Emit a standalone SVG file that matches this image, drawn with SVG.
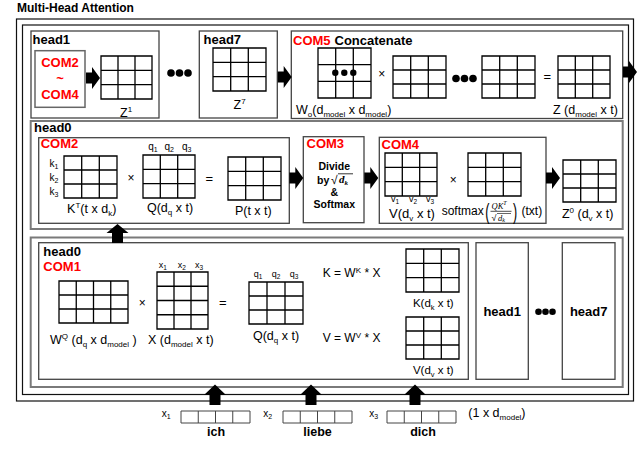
<svg xmlns="http://www.w3.org/2000/svg" xmlns:xlink="http://www.w3.org/1999/xlink" width="637" height="450" viewBox="0 0 637 450">
<style>
text{font-family:"Liberation Sans",Arial,sans-serif;fill:#000}
.b{font-weight:bold}
.red{fill:#f00;font-weight:bold;font-size:13px}
.hd{font-weight:bold;font-size:13px}
.l{font-size:12.5px}
.s{font-size:10px}
.fr{fill:none;stroke:#111;stroke-width:1.2}
.gf{fill:none;stroke:#7a7a7a;stroke-width:2}
.bx{fill:#fff;stroke:#444;stroke-width:1.3}
.g{fill:none;stroke:#000;stroke-width:1.3}
.gi{fill:none;stroke:#444;stroke-width:1}
.ar{fill:#000}
.m{font-family:"Liberation Serif","Times New Roman",serif;font-style:italic}
</style>
<defs>
<path id="ar" d="M0,-5.5H6V-11L14,0L6,11V5.5H0Z"/>
<path id="up" d="M-5.5,19V9H-11L0,0L11,9H5.5V19Z"/>
<path id="up2" d="M-5.5,20.5V10.5H-11L0,0L11,10.5H5.5V20.5Z"/>
</defs>

<text x="17" y="12" class="b" font-size="12">Multi-Head Attention</text>

<g id="frames">
<rect class="fr" x="16.5" y="19" width="617" height="382"/>
<rect class="fr" x="22.5" y="25" width="606" height="369.5"/>
<rect class="gf" x="30.7" y="121" width="592" height="108"/>
<rect class="gf" x="30.7" y="237.5" width="592" height="149.5"/>
</g>

<g id="head1-top">
<rect class="bx" x="31" y="31" width="128" height="87"/>
<text x="32.5" y="44" class="hd" font-size="12.5">head1</text>
<rect x="35" y="50.7" width="50" height="56.6" fill="#fff" stroke="#666" stroke-width="1.5"/>
<text x="60" y="66.7" text-anchor="middle" class="red">COM2</text>
<text x="60" y="83" text-anchor="middle" class="red">~</text>
<text x="60" y="99" text-anchor="middle" class="red">COM4</text>
<path class="g" d="M101,56h51v43h-51z M118,56v43 M135,56v43 M101,70.3h51 M101,84.7h51"/>
<text x="120" y="117" class="l">Z<tspan font-size="8" dy="-5">1</tspan></text>
</g>

<g id="dots-top">
<circle cx="171" cy="73" r="3.8"/><circle cx="179.5" cy="73" r="3.8"/><circle cx="188" cy="73" r="3.8"/>
</g>

<g id="head7-top">
<rect class="bx" x="199.3" y="31" width="78" height="87"/>
<text x="203.5" y="44" class="hd" font-size="12.5">head7</text>
<path class="g" d="M213,48h53v43h-53z M230.7,48v43 M248.3,48v43 M213,62.3h53 M213,76.7h53"/>
<text x="233.5" y="109" class="l">Z<tspan font-size="8" dy="-5">7</tspan></text>
</g>

<g id="com5">
<rect class="bx" x="291.3" y="31" width="331.4" height="87.5"/>
<text x="293" y="45" class="red">COM5</text>
<text x="334.5" y="45" class="hd">Concatenate</text>
<path class="g" d="M318,48h53v50h-53z M335.7,48v50 M353.3,48v50 M318,64.7h53 M318,81.3h53"/>
<circle cx="335.3" cy="72.8" r="3.2"/><circle cx="344.3" cy="72.8" r="3.2"/><circle cx="353.3" cy="72.8" r="3.2"/>
<text x="381.7" y="78" text-anchor="middle" font-size="12" fill="#444">×</text>
<path class="g" d="M393,56h53v42h-53z M410.7,56v42 M428.3,56v42 M393,70h53 M393,84h53"/>
<circle cx="456" cy="78.5" r="3.8"/><circle cx="464.5" cy="78.5" r="3.8"/><circle cx="473" cy="78.5" r="3.8"/>
<path class="g" d="M482,56h53v42h-53z M499.7,56v42 M517.3,56v42 M482,70h53 M482,84h53"/>
<text x="547.3" y="81" text-anchor="middle" font-size="13" fill="#555">=</text>
<path class="g" d="M558,56h52v42h-52z M575.3,56v42 M592.7,56v42 M558,70h52 M558,84h52"/>
<text x="296" y="114.3" class="l" font-size="13">W<tspan font-size="8" dy="3">o</tspan><tspan dy="-3">(d</tspan><tspan font-size="8" dy="3">model</tspan><tspan dy="-3"> x d</tspan><tspan font-size="8" dy="3">model</tspan><tspan dy="-3">)</tspan></text>
<text x="553" y="114.3" class="l">Z (d<tspan font-size="8" dy="3">model</tspan><tspan dy="-3"> x t)</tspan></text>
</g>

<g id="mid-label">
<text x="34" y="131.7" class="hd">head0</text>
</g>

<g id="com2">
<rect class="bx" x="38.7" y="137.7" width="250.6" height="85.6"/>
<text x="40.7" y="148.3" class="red">COM2</text>
<text x="49.5" y="166.5" class="s">k<tspan font-size="7" dy="2">1</tspan></text>
<text x="49.5" y="180.5" class="s">k<tspan font-size="7" dy="2">2</tspan></text>
<text x="49.5" y="194.5" class="s">k<tspan font-size="7" dy="2">3</tspan></text>
<path class="g" d="M64,156h53v42h-53z M81.7,156v42 M99.3,156v42 M64,170h53 M64,184h53"/>
<text x="131" y="182" text-anchor="middle" font-size="12" fill="#444">×</text>
<text x="148.3" y="150" class="s">q<tspan font-size="7" dy="2">1</tspan></text>
<text x="164.5" y="150" class="s">q<tspan font-size="7" dy="2">2</tspan></text>
<text x="182" y="150" class="s">q<tspan font-size="7" dy="2">3</tspan></text>
<path class="g" d="M143,155h52v43h-52z M160.3,155v43 M177.7,155v43 M143,169.3h52 M143,183.7h52"/>
<text x="209.3" y="183" text-anchor="middle" font-size="13" fill="#555">=</text>
<path class="g" d="M228,157h53v43h-53z M245.7,157v43 M263.3,157v43 M228,171.3h53 M228,185.7h53"/>
<text x="91.7" y="213.3" text-anchor="middle" class="l">K<tspan font-size="8" dy="-5">T</tspan><tspan dy="5">(t x d</tspan><tspan font-size="8" dy="2.5">k</tspan><tspan dy="-2.5">)</tspan></text>
<text x="170" y="211.7" text-anchor="middle" class="l">Q(d<tspan font-size="8" dy="3">q</tspan><tspan dy="-3"> x t)</tspan></text>
<text x="253.3" y="215" text-anchor="middle" class="l">P(t x t)</text>
</g>

<g id="com3">
<rect class="bx" x="303.3" y="136.7" width="60.7" height="86"/>
<text x="306.5" y="148.3" class="red">COM3</text>
<text x="334.3" y="170" text-anchor="middle" class="b" font-size="10.5">Divide</text>
<text x="317" y="183.5" class="b" font-size="10.5">by</text>
<text x="331" y="184" font-family="Liberation Serif" font-size="12">√</text>
<line x1="338" y1="173.8" x2="353" y2="173.8" stroke="#000" stroke-width="0.8"/>
<text x="339" y="183.3" class="m b" font-size="11">d<tspan font-size="7" dy="2">k</tspan></text>
<text x="334.3" y="196" text-anchor="middle" class="b" font-size="10.5">&amp;</text>
<text x="334.3" y="208.3" text-anchor="middle" class="b" font-size="10.5">Softmax</text>
</g>

<g id="com4">
<rect class="bx" x="379.3" y="137.3" width="166.7" height="86"/>
<text x="381.5" y="149.3" class="red">COM4</text>
<path class="g" d="M385,153h52v43h-52z M402.3,153v43 M419.7,153v43 M385,167.3h52 M385,181.7h52"/>
<text x="395" y="202.3" text-anchor="middle" font-size="9">v<tspan font-size="6.5" dy="2">1</tspan></text>
<text x="413" y="202.3" text-anchor="middle" font-size="9">v<tspan font-size="6.5" dy="2">2</tspan></text>
<text x="430" y="202.3" text-anchor="middle" font-size="9">v<tspan font-size="6.5" dy="2">3</tspan></text>
<text x="412" y="218.3" text-anchor="middle" font-size="13">V(d<tspan font-size="8" dy="3">v</tspan><tspan dy="-3"> x t)</tspan></text>
<text x="453.3" y="184" text-anchor="middle" font-size="12" fill="#444">×</text>
<path class="g" d="M468,153h53v43h-53z M485.7,153v43 M503.3,153v43 M468,167.3h53 M468,181.7h53"/>
<text x="441.7" y="215" font-size="12">softmax</text>
<text transform="translate(485.3,218.5) scale(1,1.75)" font-size="12.5">(</text>
<text x="491.5" y="208.8" class="m" font-size="8.5">QK<tspan font-size="6" dy="-3.5">T</tspan></text>
<line x1="490.5" y1="211.3" x2="511.5" y2="211.3" stroke="#000" stroke-width="0.7"/>
<text x="491.5" y="220.5" font-family="Liberation Serif" font-size="9">√</text>
<line x1="497" y1="213.5" x2="511" y2="213.5" stroke="#000" stroke-width="0.6"/>
<text x="498" y="220.5" class="m" font-size="8.5">d<tspan font-size="6" dy="1.5">k</tspan></text>
<text transform="translate(513,218.5) scale(1,1.75)" font-size="12.5">)</text>
<text x="521.5" y="215" font-size="12">(txt)</text>
</g>

<g id="z0">
<path class="g" d="M563,160h53v42h-53z M580.7,160v42 M598.3,160v42 M563,174h53 M563,188h53"/>
<text x="587.7" y="218.3" text-anchor="middle" class="l">Z<tspan font-size="8" dy="-5">0</tspan><tspan dy="5"> (d</tspan><tspan font-size="8" dy="3">v</tspan><tspan dy="-3"> x t)</tspan></text>
</g>

<g id="com1">
<rect class="bx" x="38.7" y="242.7" width="429.6" height="136.6"/>
<text x="43.3" y="256" class="hd">head0</text>
<text x="43.3" y="270.7" class="red">COM1</text>
<path class="g" d="M59,281h69v42h-69z M76.25,281v42 M93.5,281v42 M110.75,281v42 M59,295h69 M59,309h69"/>
<text x="142.3" y="306.5" text-anchor="middle" font-size="12" fill="#444">×</text>
<text x="162.7" y="268.3" text-anchor="middle" font-size="9">x<tspan font-size="6.5" dy="2">1</tspan></text>
<text x="181.7" y="268.3" text-anchor="middle" font-size="9">x<tspan font-size="6.5" dy="2">2</tspan></text>
<text x="199" y="268.3" text-anchor="middle" font-size="9">x<tspan font-size="6.5" dy="2">3</tspan></text>
<path class="g" d="M157,272h51v57h-51z M174,272v57 M191,272v57 M157,286.25h51 M157,300.5h51 M157,314.75h51"/>
<text x="222.7" y="307" text-anchor="middle" font-size="13" fill="#555">=</text>
<text x="258" y="277.3" text-anchor="middle" font-size="9">q<tspan font-size="6.5" dy="2">1</tspan></text>
<text x="276" y="277.3" text-anchor="middle" font-size="9">q<tspan font-size="6.5" dy="2">2</tspan></text>
<text x="294" y="277.3" text-anchor="middle" font-size="9">q<tspan font-size="6.5" dy="2">3</tspan></text>
<path class="g" d="M249,282h54v42h-54z M267,282v42 M285,282v42 M249,296h54 M249,310h54"/>
<text x="50" y="344.3" class="l">W<tspan font-size="8" dy="-5">Q</tspan><tspan dy="5"> (d</tspan><tspan font-size="8" dy="3">q</tspan><tspan dy="-3"> x d</tspan><tspan font-size="8" dy="3">model</tspan><tspan dy="-3"> )</tspan></text>
<text x="148" y="344.3" class="l">X (d<tspan font-size="8" dy="3">model</tspan><tspan dy="-3"> x t)</tspan></text>
<text x="276" y="340" text-anchor="middle" class="l">Q(d<tspan font-size="8" dy="3">q</tspan><tspan dy="-3"> x t)</tspan></text>
<text x="322.7" y="276.7" font-size="12">K = W<tspan font-size="8" dy="-4">K</tspan><tspan dy="4"> * X</tspan></text>
<path class="g" d="M406,249h53v43h-53z M423.7,249v43 M441.3,249v43 M406,263.3h53 M406,277.7h53"/>
<text x="433.3" y="306.7" text-anchor="middle" font-size="11.5">K(d<tspan font-size="7.5" dy="3">k</tspan><tspan dy="-3"> x t)</tspan></text>
<text x="322.7" y="341.7" font-size="12">V = W<tspan font-size="8" dy="-4">V</tspan><tspan dy="4"> * X</tspan></text>
<path class="g" d="M406,317h53v42h-53z M423.7,317v42 M441.3,317v42 M406,331h53 M406,345h53"/>
<text x="433.3" y="374" text-anchor="middle" font-size="11.5">V(d<tspan font-size="7.5" dy="3">v</tspan><tspan dy="-3"> x t)</tspan></text>
</g>

<g id="head1-bottom">
<rect class="bx" x="476" y="242.7" width="52.3" height="136.6"/>
<text x="502.2" y="316" text-anchor="middle" class="hd" font-size="12.7">head1</text>
</g>
<g id="dots-bottom">
<circle cx="538.5" cy="311.7" r="3.3"/><circle cx="545.5" cy="311.7" r="3.3"/><circle cx="552.5" cy="311.7" r="3.3"/>
</g>
<g id="head7-bottom">
<rect class="bx" x="562.3" y="242.7" width="52.7" height="136.6"/>
<text x="588.7" y="316" text-anchor="middle" class="hd" font-size="12.7">head7</text>
</g>

<g id="inputs">
<text x="161.7" y="416.7" font-size="10">x<tspan font-size="7" dy="2">1</tspan></text>
<path class="gi" d="M181,411h69v12h-69z M198.25,411v12 M215.5,411v12 M232.75,411v12"/>
<text x="263.3" y="416.7" font-size="10">x<tspan font-size="7" dy="2">2</tspan></text>
<path class="gi" d="M283,411h69v12h-69z M300.25,411v12 M317.5,411v12 M334.75,411v12"/>
<text x="369.3" y="416.7" font-size="10">x<tspan font-size="7" dy="2">3</tspan></text>
<path class="gi" d="M387,411h69v12h-69z M404.25,411v12 M421.5,411v12 M438.75,411v12"/>
<text x="468.3" y="416.7" font-size="12.5">(1 x d<tspan font-size="8" dy="3">model</tspan><tspan dy="-3">)</tspan></text>
<text x="216" y="436" text-anchor="middle" class="b" font-size="12.5">ich</text>
<text x="317.5" y="436" text-anchor="middle" class="b" font-size="12.5">liebe</text>
<text x="423" y="436" text-anchor="middle" class="b" font-size="12.5">dich</text>
</g>

<g id="connectors" class="ar">
<use xlink:href="#ar" transform="translate(86,78)"/>
<use xlink:href="#ar" transform="translate(277.7,77)"/>
<use xlink:href="#ar" transform="translate(623,72)"/>
<use xlink:href="#ar" transform="translate(289.3,178)"/>
<use xlink:href="#ar" transform="translate(364.3,178)"/>
<use xlink:href="#ar" transform="translate(546,178)"/>
<use xlink:href="#up" transform="translate(117.5,224)"/>
<use xlink:href="#up2" transform="translate(215,384.5)"/>
<use xlink:href="#up2" transform="translate(311,384.5)"/>
<use xlink:href="#up2" transform="translate(415,384.5)"/>
</g>
</svg>
